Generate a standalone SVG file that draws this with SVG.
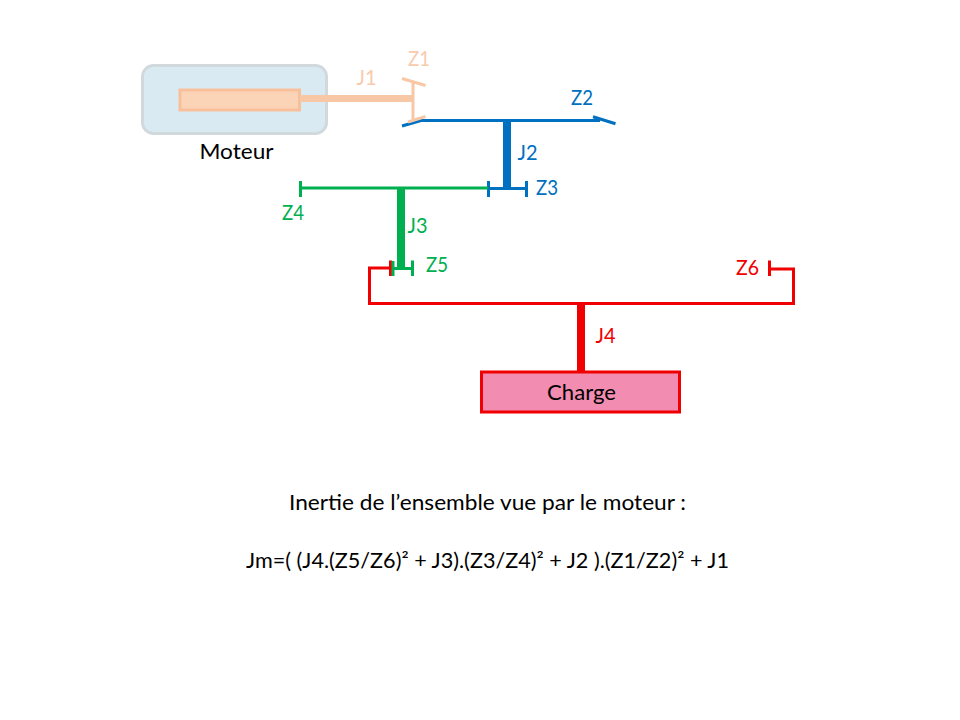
<svg xmlns="http://www.w3.org/2000/svg" width="960" height="720" viewBox="0 0 960 720">
<style>
text{font-family:Lato,"Open Sans","Liberation Sans",sans-serif;font-size:20.5px}
.k{fill:#000}.p{fill:#F8CBAD}.b{fill:#0070C0}.g{fill:#00B050}.r{fill:#F00000}
.l{fill:none;stroke-width:3}
.ps{stroke:#F8C8A6}.bs{stroke:#0070C0}.gs{stroke:#00B050}.rs{stroke:#F00000}
</style>
<rect width="960" height="720" fill="#fff"/>
<g id="moteur">
<rect x="142.500" y="65.500" width="184" height="68" rx="11" fill="#DAEAF3" stroke="#D2D9DD" stroke-width="3"/>
<rect x="180" y="90" width="119.500" height="20" fill="#FBD3B6" stroke="#F8C09A" stroke-width="3"/>
<text class="k" x="199.500" y="159" textLength="74" lengthAdjust="spacingAndGlyphs">Moteur</text>
</g>
<g id="connecteurs">
<path class="l bs" d="M402 126L421 120.500"/>
<path class="l bs" d="M420 120.500H600M593 116.700L615.500 123.700"/>
<path class="bs" stroke-width="8" fill="none" d="M507 120V188"/>
<path class="l bs" d="M488.500 188.500H526.500M488.500 181V197M526.500 181V197"/>
<path class="l gs" d="M300.500 188H488M300.500 181V197"/>
<path class="gs" stroke-width="8" fill="none" d="M401 188V268"/>
<path class="l rs" d="M390.500 268H369.500V303.500H793.500V269H769.500M390.500 260.500V276M769.500 260.500V276"/>
<path class="l gs" d="M393 268.500H412.500M412.500 260.500V276M393 261V276"/>
<path class="rs" stroke-width="8" fill="none" d="M581 304V372"/>
<path class="ps" stroke-width="7" fill="none" d="M300 98.500H413"/>
<path class="l ps" d="M413 83V119M402 78.500L425.500 85.500M408 122L425.500 116.500"/>
</g>
<g id="z1"><text class="p" x="408" y="65.500" textLength="22" lengthAdjust="spacingAndGlyphs">Z1</text></g>
<g id="j1"><text class="p" x="356.500" y="84.500" textLength="20" lengthAdjust="spacingAndGlyphs">J1</text></g>
<g id="z2"><text class="b" x="571" y="104.500" textLength="22" lengthAdjust="spacingAndGlyphs">Z2</text></g>
<g id="j2"><text class="b" x="517.500" y="159.500" textLength="20" lengthAdjust="spacingAndGlyphs">J2</text></g>
<g id="z3"><text class="b" x="536" y="195" textLength="22" lengthAdjust="spacingAndGlyphs">Z3</text></g>
<g id="z4"><text class="g" x="282" y="220" textLength="22" lengthAdjust="spacingAndGlyphs">Z4</text></g>
<g id="j3"><text class="g" x="407.500" y="232.500" textLength="20" lengthAdjust="spacingAndGlyphs">J3</text></g>
<g id="z5"><text class="g" x="426" y="272" textLength="22" lengthAdjust="spacingAndGlyphs">Z5</text></g>
<g id="z6"><text class="r" x="736" y="275" textLength="23" lengthAdjust="spacingAndGlyphs">Z6</text></g>
<g id="j4"><text class="r" x="595.500" y="343" textLength="20" lengthAdjust="spacingAndGlyphs">J4</text></g>
<g id="charge">
<rect x="481.500" y="372" width="198" height="40" fill="#F28CB1" stroke="#F00000" stroke-width="3"/>
<text class="k" x="547" y="400" textLength="69" lengthAdjust="spacingAndGlyphs">Charge</text>
</g>
<g id="formule">
<text class="k" x="289" y="510" textLength="397" lengthAdjust="spacingAndGlyphs">Inertie de l’ensemble vue par le moteur :</text>
<text class="k" x="246" y="568" textLength="483" lengthAdjust="spacingAndGlyphs">Jm=( (J4.(Z5/Z6)² + J3).(Z3/Z4)² + J2 ).(Z1/Z2)² + J1</text>
</g>
</svg>
